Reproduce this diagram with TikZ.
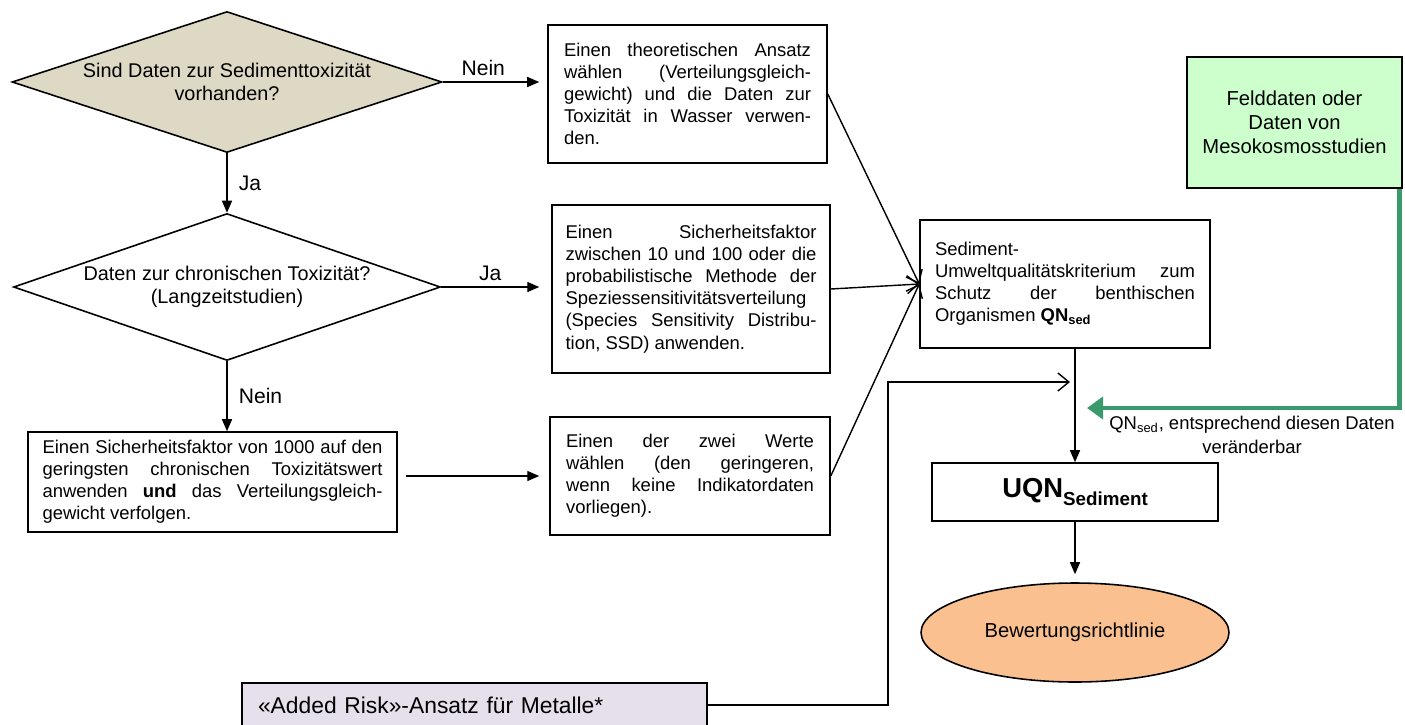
\documentclass[tikz,border=0pt]{standalone}
\usepackage{fontspec}
\setmainfont{Liberation Sans}
\usetikzlibrary{positioning,arrows.meta,shapes.geometric,calc}
\definecolor{decfill}{HTML}{DDD9C4}
\definecolor{fieldfill}{HTML}{CCFFCC}
\definecolor{fieldarrow}{HTML}{3A9A6B}
\definecolor{evalfill}{HTML}{FAC090}
\definecolor{riskfill}{HTML}{E6E0EC}
\tolerance=9999
\hyphenpenalty=10000

\begin{document}
\begin{tikzpicture}[
  x=0.02cm, y=-0.02cm,
  font=\fontsize{10.5}{12.6}\selectfont,
  box/.style={draw, line width=0.9pt, align=justify, inner ysep=2pt},
  dec/.style={diamond, draw, line width=0.9pt, align=center, inner sep=0pt, aspect=2.9, font=\fontsize{11.3}{13.2}\selectfont},
  arr/.style={-{Triangle[length=2.4mm, width=2mm]}, line width=0.8pt},
  barb/.style={-{Straight Barb[length=2.2mm, width=3.6mm]}, line width=0.8pt},
  lbl/.style={font=\fontsize{12}{14}\selectfont}]

\useasboundingbox (0,0) rectangle (1405,724);

% decisions
\node[dec, fill=decfill, minimum width=8.6cm, minimum height=2.82cm] (q1) at (227,82) {Sind Daten zur Sedimenttoxizität\\vorhanden?};
\node[dec, fill=white, minimum width=8.54cm, minimum height=2.94cm] (q2) at (227,287) {Daten zur chronischen Toxizität?\\(Langzeitstudien)};

% method boxes
\node[box, text width=4.94cm, minimum width=5.58cm, minimum height=2.76cm] (theory) at (687.5,94) {Einen theoretischen Ansatz\linebreak wählen (Verteilungsgleich-\linebreak gewicht) und die Daten zur\linebreak Toxizität in Wasser verwen-\linebreak den.};
\node[box, text width=5.02cm, minimum width=5.56cm, minimum height=3.36cm] (ssd) at (691,289) {Einen Sicherheitsfaktor\linebreak zwischen 10 und 100 oder die\linebreak probabilistische Methode der\linebreak Speziessensitivitätsverteilung\newline (Species Sensitivity Distribu-\linebreak tion, SSD) anwenden.};
\node[box, text width=4.96cm, minimum width=5.6cm, minimum height=2.36cm] (choose) at (690,476) {Einen der zwei Werte\linebreak wählen (den geringeren,\linebreak wenn keine Indikatordaten\linebreak vorliegen).};
\node[box, text width=6.8cm, minimum width=7.38cm, minimum height=2cm] (sf1000) at (212.5,482) {Einen Sicherheitsfaktor von 1000 auf den\linebreak geringsten chronischen Toxizitätswert\linebreak anwenden \textbf{und} das Verteilungsgleich-\linebreak gewicht verfolgen.};

% right column
\node[box, text width=5.2cm, minimum width=5.8cm, minimum height=2.56cm] (qn) at (1065,284) {Sediment-\newline Umweltqualitätskriterium zum\linebreak Schutz der benthischen\linebreak Organismen \textbf{QN\textsubscript{sed}}};
\node[box, fill=fieldfill, align=center, minimum width=4.3cm, minimum height=2.62cm, font=\fontsize{11.5}{13.6}\selectfont] (field) at (1294.5,122.5) {Felddaten oder\\Daten von\\Mesokosmosstudien};
\node[box, align=center, minimum width=5.72cm, minimum height=1.16cm] (uqn) at (1075,492) {\fontsize{15.6}{18}\selectfont\textbf{UQN}\raisebox{-4.5pt}{\fontsize{10.7}{12}\selectfont\textbf{Sediment}}};
\node[ellipse, draw, line width=0.9pt, fill=evalfill, minimum width=6.16cm, minimum height=1.98cm, font=\fontsize{11.5}{13.6}\selectfont] (eval) at (1075,632.5) {Bewertungsrichtlinie};
\node[box, fill=riskfill, align=left, text width=8.66cm, minimum width=9.3cm, minimum height=0.88cm, font=\fontsize{13}{15}\selectfont] (risk) at (474.5,705) {«Added Risk»-Ansatz für Metalle*};

\coordinate (riskturn) at (888,382);
\coordinate (riskend) at (1070,382);
\coordinate (fieldend) at (1087,408);

% connectors
\draw[arr] (q1.east) -- node[lbl, above, pos=0.42]{Nein} ([xshift=-0.16cm]q1.east -| theory.west);
\draw[arr] (q1.south) -- node[lbl, right, xshift=3pt]{Ja} (q2.north);
\draw[arr] (q2.east) -- node[lbl, above, pos=0.5]{Ja} ([xshift=-0.24cm]q2.east -| ssd.west);
\draw[arr] (q2.south) -- node[lbl, right, xshift=3pt]{Nein} (q2.south |- sf1000.north);
\draw[arr] ([xshift=0.16cm]sf1000.east |- choose.west) -- ([xshift=-0.2cm]choose.west);

\draw[barb] (theory.east) -- (qn.west);
\draw[barb] (ssd.east) -- (qn.west);
\draw[barb] (choose.east) -- (qn.west);

\draw[arr] (uqn.north |- qn.south) -- (uqn.north);
\draw[arr] (uqn.south) -- ([yshift=0.16cm]eval.north);

\draw[barb] (risk.east) -| (riskturn) -- (riskend);

\draw[fieldarrow, line width=2.8pt, -{Triangle[length=3.2mm, width=4.4mm]}] ([xshift=-0.06cm]field.south east) |- (fieldend);
\node[align=center, font=\fontsize{10.5}{13.4}\selectfont] (fieldlbl) at (1252,435) {QN\textsubscript{sed}, entsprechend diesen Daten\\veränderbar};
\end{tikzpicture}
\end{document}
